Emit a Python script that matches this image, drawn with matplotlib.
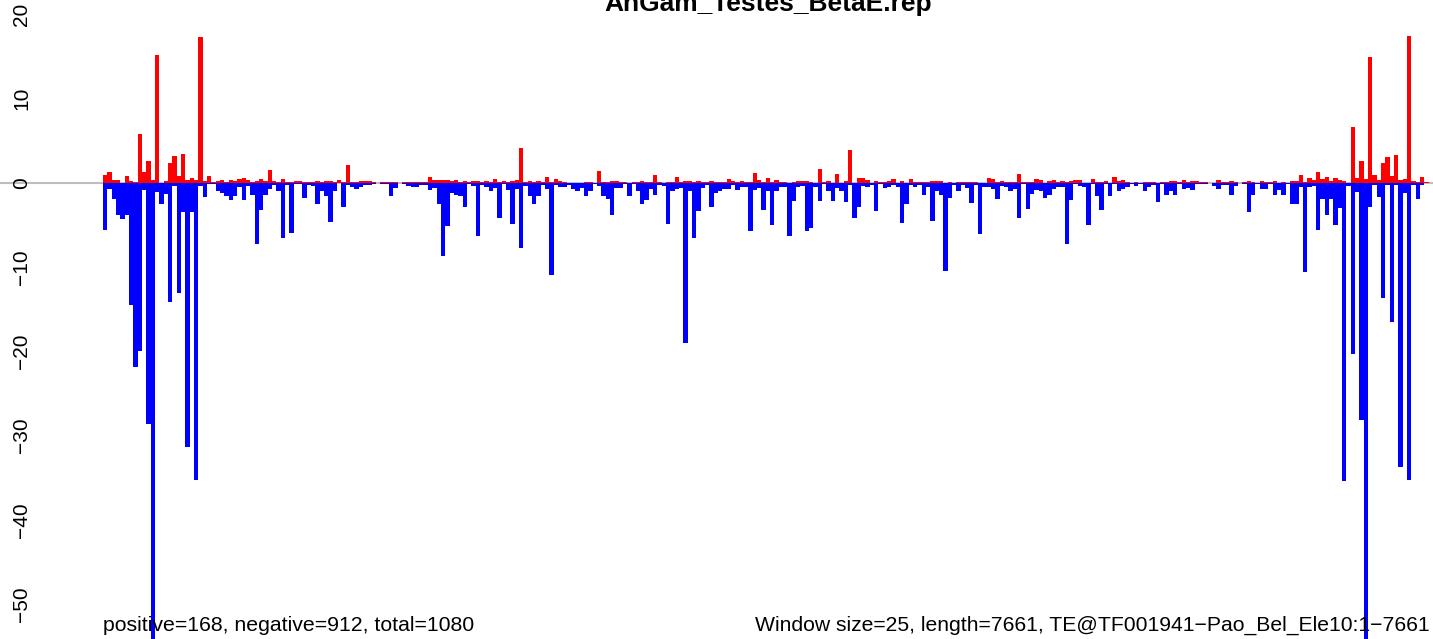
import matplotlib
matplotlib.use('Agg')
import matplotlib.pyplot as plt
from matplotlib.transforms import blended_transform_factory

title = 'AnGam_Testes_BetaE.rep'
left_note = 'positive=168, negative=912, total=1080'
right_note = 'Window size=25, length=7661, TE@TF001941\u2212Pao_Bel_Ele10:1\u22127661'
yticks = [20, 10, 0, -10, -20, -30, -40, -50]

# score per 25 bp window, positive part (red)
pos = [0.9, 1.25, 0.3, 0.3, 0.05, 0.8, 0.25, 0.1, 5.85, 1.25, 2.6, 0.35, 15.2, 0.05, 0.25, 2.35, 3.2, 0.8, 3.4, 0.35, 0.55, 0.3, 17.3, 0.25, 0.8,
       0.1, 0.2, 0.35, 0.1, 0.35, 0.2, 0.5, 0.6, 0.3, 0.15, 0.2, 0.5, 0.2, 1.5, 0.2, 0.1, 0.5, 0.1, 0.1, 0.2, 0.2, 0.1, 0.1, 0.1, 0.2, 0.1, 0.2,
       0.2, 0.1, 0.35, 0.1, 2.1, 0.1, 0.1, 0.2, 0.2, 0.2, 0.1, 0, 0.1, 0.1, 0.1, 0.1, 0, 0.1, 0.1, 0.1, 0.1, 0.1, 0.1, 0.7, 0.35,
       0.35, 0.35, 0.35, 0.2, 0.35, 0.1, 0.2, 0.1, 0.2, 0.2, 0.1, 0.2, 0.1, 0.5, 0.1, 0.2, 0.1, 0.2, 0.35, 4.15, 0.1, 0.2, 0.1, 0.2, 0.1,
       0.7, 0.1, 0.5, 0.2, 0.1, 0, 0, 0, 0, 0.1, 0.1, 0, 1.4, 0.1, 0.1, 0.2, 0.2, 0.1, 0.1, 0, 0.1, 0.1, 0.2, 0.1, 0.1, 0.95,
       0.1, 0, 0.1, 0.1, 0.7, 0.1, 0.2, 0.2, 0.1, 0.2, 0.1, 0.1, 0.2, 0.1, 0.1, 0.1, 0.5, 0.2, 0.1, 0.2, 0.1, 0.1, 1.2, 0.35, 0.1,
       0.6, 0.1, 0.35, 0.1, 0.1, 0, 0.1, 0.2, 0.2, 0.2, 0.1, 0, 1.65, 0.1, 0.2, 0, 1.05, 0, 0.2, 3.9, 0, 0.6, 0.6, 0.35, 0, 0.2,
       0.1, 0.1, 0.2, 0.5, 0, 0.2, 0, 0.5, 0.1, 0.1, 0.1, 0.1, 0.2, 0.2, 0.2, 0, 0.1, 0, 0.1, 0.1, 0.1, 0.1, 0.1, 0, 0,
       0.6, 0.5, 0.1, 0.2, 0.1, 0.1, 0.1, 1.05, 0.1, 0.1, 0.1, 0.5, 0.35, 0, 0.2, 0.35, 0.1, 0.2, 0.1, 0.2, 0.35, 0.35, 0, 0, 0.5,
       0.1, 0.1, 0.2, 0, 0.7, 0.2, 0.35, 0.1, 0, 0.1, 0, 0.1, 0.1, 0.1, 0, 0.1, 0.1, 0.2, 0.2, 0.1, 0.35, 0.1, 0.2, 0.2, 0.1,
       0.1, 0, 0, 0.35, 0.1, 0.1, 0.2, 0.1, 0, 0.1, 0.2, 0.1, 0, 0.2, 0.1, 0.1, 0.2, 0, 0.1, 0, 0.2, 0.2, 0.95, 0.1, 0.6, 0.35,
       1.35, 0.5, 0.7, 0.2, 0.55, 0.4, 0.25, 0.05, 6.6, 0.55, 2.6, 0.5, 15.0, 0.9, 0.35, 2.35, 3.1, 0.8, 3.3, 0.3, 0.5, 17.4, 0.2, 0.15, 0.7, 0.1, 0.05]

# negative part (blue)
neg = [-5.6, -0.75, -1.95, -3.85, -4.3, -3.75, -14.5, -21.9, -20.0, -0.8, -28.6, -56.0, -1.1, -2.55, -1.3, -14.1, -0.3, -13.1, -3.5, -31.3, -3.5, -35.3, -0.35, -1.65, -0.1,
       -0.1, -0.9, -1.15, -1.6, -2.0, -1.5, -0.45, -2.0, -0.3, -1.4, -7.3, -3.2, -1.4, -0.7, -0.25, -1.0, -6.5, -0.25, -5.9, -0.1, -0.1, -1.75, -0.25, -0.3, -2.45, -1.0, -1.5,
       -4.6, -1.0, -0.05, -2.9, -0.25, -0.45, -0.7, -0.45, -0.2, -0.2, -0.1, 0, -0.1, -0.1, -1.5, -0.55, 0, -0.1, -0.3, -0.45, -0.45, -0.2, -0.2, -0.8, -0.55,
       -2.45, -8.7, -5.1, -1.15, -1.4, -1.6, -2.8, -0.1, -0.3, -6.25, -0.2, -0.45, -0.9, -0.55, -4.2, -0.1, -0.8, -4.9, -0.7, -7.7, -0.3, -1.6, -2.45, -1.5, -0.2,
       -0.7, -10.9, -0.2, -0.45, -0.45, -0.2, -0.7, -1.0, -0.55, -1.6, -0.9, -0.1, -0.3, -1.5, -1.85, -3.75, -0.55, -0.55, -0.1, -1.5, -0.1, -1.0, -2.55, -2.0, -0.7, -1.4,
       -0.25, -0.3, -4.9, -1.0, -0.7, -0.55, -19.05, -1.0, -6.5, -3.3, -0.55, -0.25, -2.8, -1.15, -1.0, -0.7, -0.7, -0.25, -0.8, -0.45, -0.45, -5.75, -0.8, -0.55, -3.2,
       -1.0, -4.95, -1.0, -0.45, -0.45, -6.35, -2.1, -0.45, -0.3, -5.65, -5.3, -0.45, -2.1, -0.1, -1.0, -2.1, -0.55, -0.9, -2.2, -0.2, -4.1, -2.8, -0.3, -0.45, -0.2, -3.3,
       -0.1, -0.55, -0.45, -0.2, -0.45, -4.8, -2.45, -0.2, -0.45, -0.2, -1.4, -0.45, -4.5, -0.9, -1.4, -10.5, -1.75, -0.2, -0.9, -0.2, -0.55, -2.35, -0.2, -6.1, -0.45,
       -0.45, -0.7, -1.85, -0.3, -0.45, -1.0, -0.7, -4.2, -0.1, -3.05, -1.25, -0.8, -0.9, -1.75, -1.4, -0.7, -0.45, -0.45, -7.3, -2.0, -0.1, -0.3, -0.45, -4.95, -0.1,
       -1.5, -3.15, -0.1, -1.5, -0.1, -0.9, -0.7, -0.45, -0.1, -0.3, -0.1, -1.0, -0.45, -0.2, -2.2, -0.1, -1.4, -1.0, -1.4, -0.1, -0.7, -0.55, -0.8, -0.1, -0.1,
       -0.1, 0, -0.3, -0.7, -0.2, -0.2, -1.4, -0.3, 0, -0.1, -3.4, -1.4, -0.1, -0.7, -0.7, -0.1, -1.4, -0.8, -1.4, -0.1, -2.55, -2.45, -0.45, -10.6, -0.45, -0.3,
       -5.6, -1.95, -3.85, -1.95, -5.0, -3.0, -35.4, -0.3, -20.3, -1.1, -28.2, -56.0, -2.9, -0.25, -1.7, -13.7, -0.2, -16.5, -0.25, -33.7, -1.2, -35.3, -0.2, -1.85, -0.2, 0, 0]

plt.rcParams['font.family'] = ['Liberation Sans', 'DejaVu Sans']

W, H = 1433, 639
fig = plt.figure(figsize=(W / 100, H / 100), dpi=100)
ax = fig.add_axes([0, 0, 1, 1])
ax.axis('off')

# pixel mapping: first bar at x=103, each window 4.332 px; y=0 at 183, 8.42 px per unit
bw = 4.332
ax.set_xlim(-103 / bw, (W - 103) / bw)
ax.set_ylim((183 - H) / 8.42, 183 / 8.42)

x = list(range(len(pos)))
ax.axhline(0, color='#bebebe', lw=1.5, zorder=1)
ax.bar(x, pos, width=1, align='edge', color='red', linewidth=0, zorder=2)
ax.bar(x, neg, width=1, align='edge', color='blue', linewidth=0, zorder=2)

tr = blended_transform_factory(ax.transAxes, ax.transData)
for v in yticks:
    lab = str(v).replace('-', '\u2212')
    ax.text(22 / W, v, lab, transform=tr, rotation=90, ha='center', va='center', fontsize=15)

# title sits partly above the top edge, as in the original
fig.text(768 / W, 1 - 11 / H, title, ha='center', va='baseline', fontsize=19, fontweight='bold')
fig.text(103 / W, 1 - 631 / H, left_note, ha='left', va='baseline', fontsize=15.3)
fig.text(1430 / W, 1 - 631 / H, right_note, ha='right', va='baseline', fontsize=15.25)

fig.savefig('out.png', dpi=100)
